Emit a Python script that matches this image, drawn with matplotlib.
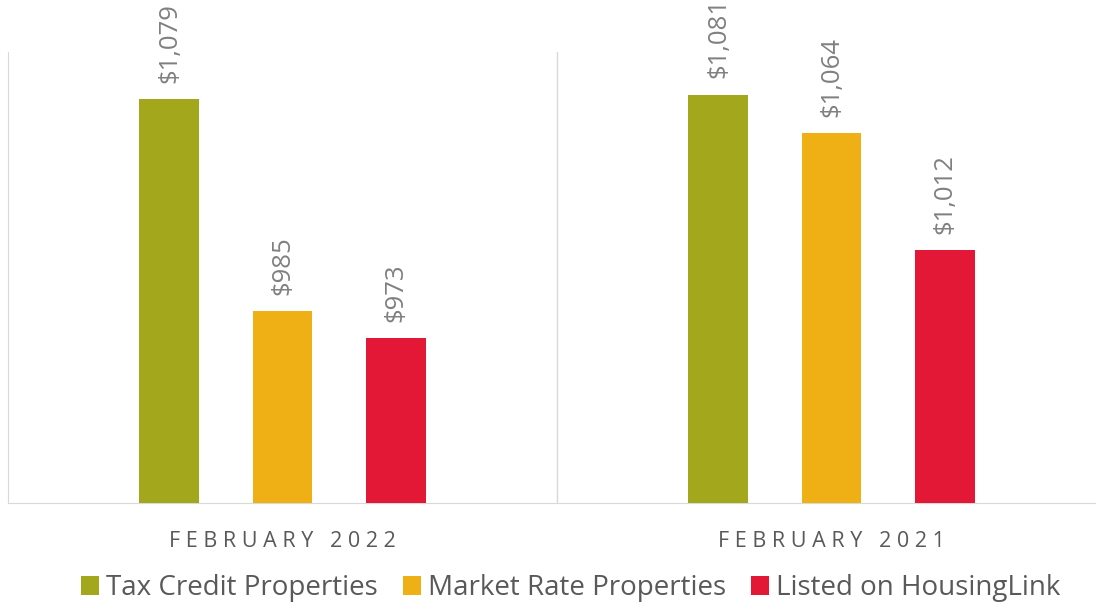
import matplotlib.pyplot as plt
import numpy as np

periods = ['FEBRUARY 2022', 'FEBRUARY 2021']
series = ['Tax Credit Properties', 'Market Rate Properties', 'Listed on HousingLink']
tax_credit = [1079, 1081]
market_rate = [985, 1064]
housinglink = [973, 1012]
colors = ['#A2A71B', '#EEB015', '#E31837']

plt.rcParams['font.family'] = ['Open Sans', 'DejaVu Sans']

fig = plt.figure(figsize=(10.96, 6.09), dpi=100)
ax = fig.add_axes([8 / 1096, 1 - 503 / 609, 1098 / 1096, 451 / 609])

x = np.arange(len(periods))
width = 0.109
offset = 0.206
for i, (vals, name) in enumerate(zip([tax_credit, market_rate, housinglink], series)):
    pos = x + (i - 1) * offset
    ax.bar(pos, vals, width, color=colors[i], label=name, zorder=3)
    for p, v in zip(pos, vals):
        ax.annotate(f"${v:,}", (p, v), xytext=(0, 12), textcoords='offset points',
                    rotation=90, ha='center', va='bottom', fontsize=18.5, color='#808080')

ax.set_ylim(900, 1100)
ax.set_xlim(-0.5, 1.5)
ax.set_yticks([])
for s in ['top', 'right']:
    ax.spines[s].set_visible(False)
ax.spines['left'].set_color('#d9d9d9')
ax.spines['bottom'].set_color('#d9d9d9')
ax.axvline(0.5, color='#d9d9d9', lw=1)

spaced = ['   '.join(' '.join(w) for w in p.split()) for p in periods]
ax.set_xticks(x)
ax.set_xticklabels(spaced, fontsize=15.5, color='#595959')
ax.tick_params(axis='x', length=0, pad=20)

fig.legend(loc='center', bbox_to_anchor=(571 / 1096, 1 - 588 / 609), ncol=3,
           frameon=False, fontsize=20, labelcolor='#595959', handlelength=0.65,
           handleheight=0.65, handletextpad=0.25, columnspacing=0.9,
           borderaxespad=0, borderpad=0)

fig.savefig('out.png', dpi=100)
